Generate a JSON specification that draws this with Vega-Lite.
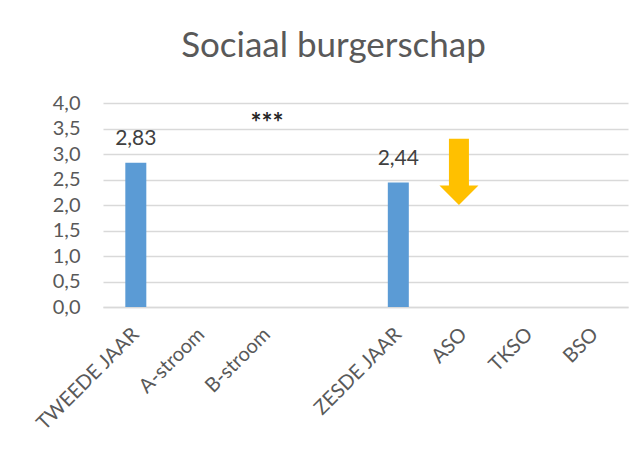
{
  "$schema": "https://vega.github.io/schema/vega-lite/v6.json",
  "autosize": {"type": "none"},
  "padding": {"left": 103, "top": 103, "right": 13, "bottom": 149},
  "width": 525,
  "height": 204,
  "background": "white",
  "title": {
    "text": "Sociaal burgerschap",
    "font": "Lato",
    "fontSize": 35,
    "fontWeight": "normal",
    "color": "#595959",
    "anchor": "middle",
    "frame": "group",
    "dx": -32,
    "offset": 29
  },
  "datasets": {
    "bars": [
      {"groep": "TWEEDE JAAR", "score": 2.83, "label": "2,83"},
      {"groep": "ZESDE JAAR", "score": 2.44, "label": "2,44"}
    ],
    "sig": [
      {"groep": "B-stroom", "y": 3.75, "tekst": "***"}
    ],
    "pijl": [
      {"groep": "ASO", "top": 3.3, "neck": 2.36, "tip": 2.0}
    ]
  },
  "config": {
    "view": {"stroke": null},
    "font": "Lato",
    "axisY": {
      "title": null,
      "labelFont": "Lato",
      "labelFontSize": 20,
      "labelColor": "#595959",
      "labelPadding": 23,
      "labelOverlap": false,
      "ticks": false,
      "domain": false,
      "grid": true,
      "gridColor": "#d9d9d9",
      "gridWidth": 1.5
    }
  },
  "encoding": {
    "x": {
      "field": "groep",
      "type": "nominal",
      "sort": null,
      "scale": {
        "domain": ["TWEEDE JAAR", "A-stroom", "B-stroom", " ", "ZESDE JAAR", "ASO", "TKSO", "BSO"],
        "paddingInner": 0.68,
        "paddingOuter": 0.34
      },
      "axis": {
        "title": null,
        "labelAngle": -45,
        "labelAlign": "right",
        "labelBaseline": "middle",
        "labelFont": "Lato",
        "labelFontSize": 20,
        "labelColor": "#595959",
        "labelPadding": 24,
        "labelOverlap": false,
        "ticks": false,
        "domain": true,
        "domainColor": "#d9d9d9",
        "domainWidth": 1.5,
        "grid": false
      }
    }
  },
  "layer": [
    {
      "data": {"name": "bars"},
      "mark": {"type": "bar", "color": "#5B9BD5"},
      "encoding": {
        "y": {
          "field": "score",
          "type": "quantitative",
          "scale": {"domain": [0, 4]},
          "axis": {"values": [0, 0.5, 1, 1.5, 2, 2.5, 3, 3.5, 4], "format": ".1f", "labelExpr": "replace(datum.label, '.', ',')"}
        }
      }
    },
    {
      "data": {"name": "bars"},
      "mark": {"type": "text", "font": "Lato", "fontSize": 21, "color": "#404040", "baseline": "alphabetic", "dy": -18},
      "encoding": {
        "y": {"field": "score", "type": "quantitative", "axis": {"values": [0, 0.5, 1, 1.5, 2, 2.5, 3, 3.5, 4], "format": ".1f", "labelExpr": "replace(datum.label, '.', ',')"}},
        "text": {"field": "label"}
      }
    },
    {
      "data": {"name": "sig"},
      "mark": {"type": "text", "font": "Lato", "fontSize": 26, "fontWeight": "bold", "color": "#262626", "baseline": "middle", "dy": 8},
      "encoding": {
        "y": {"field": "y", "type": "quantitative", "axis": {"values": [0, 0.5, 1, 1.5, 2, 2.5, 3, 3.5, 4], "format": ".1f", "labelExpr": "replace(datum.label, '.', ',')"}},
        "text": {"field": "tekst"}
      }
    },
    {
      "data": {"name": "pijl"},
      "mark": {"type": "rule", "color": "#FFC000", "strokeWidth": 20, "strokeCap": "butt", "xOffset": -5},
      "encoding": {
        "y": {"field": "top", "type": "quantitative", "axis": {"values": [0, 0.5, 1, 1.5, 2, 2.5, 3, 3.5, 4], "format": ".1f", "labelExpr": "replace(datum.label, '.', ',')"}},
        "y2": {"field": "neck"}
      }
    },
    {
      "data": {"name": "pijl"},
      "mark": {"type": "point", "filled": true, "color": "#FFC000", "opacity": 1, "shape": "M-1,-1L1,-1L0,0Z", "size": 1521, "xOffset": -5},
      "encoding": {
        "y": {"field": "tip", "type": "quantitative", "axis": {"values": [0, 0.5, 1, 1.5, 2, 2.5, 3, 3.5, 4], "format": ".1f", "labelExpr": "replace(datum.label, '.', ',')"}}
      }
    }
  ]
}
